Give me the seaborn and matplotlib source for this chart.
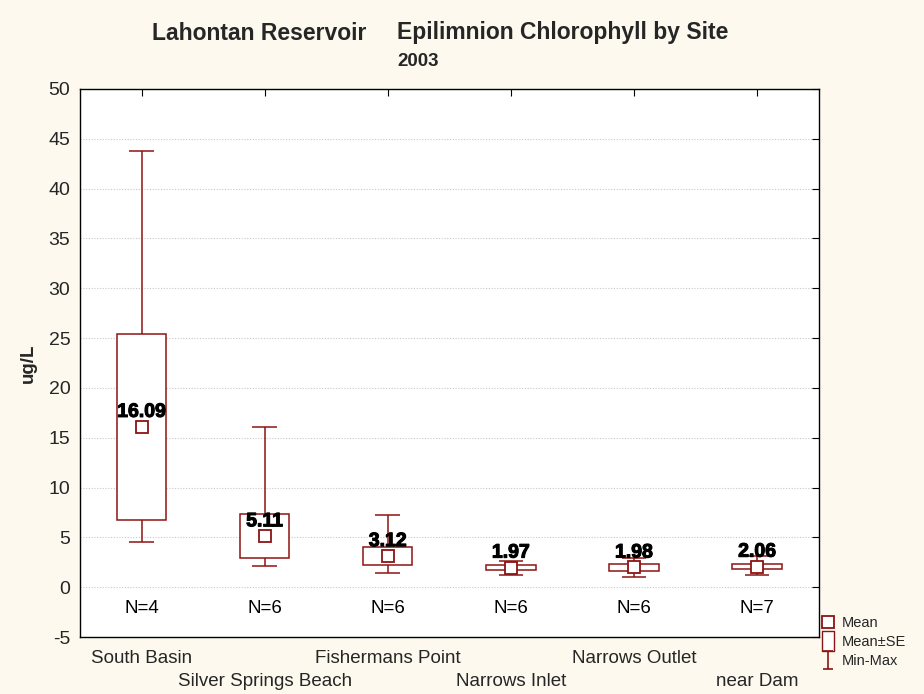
import numpy as np
import pandas as pd
import seaborn as sns
import matplotlib.pyplot as plt
import matplotlib.patheffects as pe
from matplotlib.lines import Line2D
from matplotlib.path import Path

# values
sites = ['South Basin', 'Silver Springs Beach', 'Fishermans Point',
         'Narrows Inlet', 'Narrows Outlet', 'near Dam']
means = [16.09, 5.11, 3.12, 1.97, 1.98, 2.06]
se = [9.30, 2.20, 0.89, 0.28, 0.36, 0.28]
mins = [4.56, 2.11, 1.40, 1.27, 1.07, 1.27]
maxs = [43.8, 16.07, 7.27, 2.67, 2.93, 3.17]
counts = [4, 6, 6, 6, 6, 7]

red = '#8B1414'
cream = '#FDF9EE'

sns.set_theme(style='white')
plt.rcParams['font.family'] = ['Liberation Sans', 'DejaVu Sans']
plt.rcParams['axes.unicode_minus'] = False

df = pd.DataFrame({'site': sites, 'mean': means, 'se': se,
                   'min': mins, 'max': maxs, 'n': counts})
df['lo'] = df['mean'] - df['se']
df['hi'] = df['mean'] + df['se']

fig = plt.figure(figsize=(9.24, 6.94), dpi=100, facecolor=cream)
ax = fig.add_axes([0.0866, 0.0821, 0.7994, 0.7897])
ax.set_facecolor('white')

xs = np.arange(len(df))

# whiskers + caps (min-max)
ax.vlines(xs, df['min'], df['max'], color=red, lw=1.1, zorder=2)
ax.hlines(df['min'], xs - 0.1, xs + 0.1, color=red, lw=1.1, zorder=2)
ax.hlines(df['max'], xs - 0.1, xs + 0.1, color=red, lw=1.1, zorder=2)

# mean +- SE boxes
ax.bar(xs, df['hi'] - df['lo'], bottom=df['lo'], width=0.4,
       facecolor='white', edgecolor=red, linewidth=1.1, zorder=3)

# mean markers
sns.pointplot(data=df, x='site', y='mean', ax=ax, linestyle='none',
              marker='s', markersize=8, color=red, errorbar=None,
              markerfacecolor='white', markeredgecolor=red,
              markeredgewidth=1.3, zorder=4)

for i, row in df.iterrows():
    ax.text(i, row['mean'] + 0.6, f"{row['mean']:.2f}", ha='center',
            va='bottom', fontsize=14, fontweight='bold', color='black', zorder=5,
            path_effects=[pe.withStroke(linewidth=0.8, foreground='black')])
    ax.text(i, -2.1, f"N={row['n']}", ha='center', va='center',
            fontsize=13.5, color='black')

ax.set_ylim(-5, 50)
ax.set_xlim(-0.5, len(df) - 0.5)
ax.set_yticks(np.arange(-5, 51, 5))
ax.set_xticks(xs)
ax.set_xticklabels(sites, fontsize=13.5)
ax.tick_params(axis='y', labelsize=14)
ax.tick_params(direction='in', top=True, right=True, length=5,
               width=0.8, color='black', pad=7)
ax.tick_params(axis='x', pad=9)
# stagger the site names on two rows
for i, tick in enumerate(ax.xaxis.get_major_ticks()):
    if i % 2 == 1:
        tick.set_pad(26)
for y in range(0, 50, 5):
    ax.axhline(y, color='#c8c8c8', lw=0.8, ls=(0, (1, 1.5)), zorder=0)
for s in ax.spines.values():
    s.set_color('black')
    s.set_linewidth(1.0)

ax.set_xlabel('')
ax.set_ylabel('ug/L', fontsize=13.5, fontweight='bold', labelpad=8)

# titles
fig.text(152 / 924, 1 - 33 / 694, 'Lahontan Reservoir',
         fontsize=16.5, fontweight='bold', va='center', ha='left')
fig.text(397 / 924, 1 - 33 / 694, 'Epilimnion Chlorophyll by Site',
         fontsize=16.5, fontweight='bold', va='center', ha='left')
fig.text(397 / 924, 1 - 61 / 694, '2003',
         fontsize=13.5, fontweight='bold', va='center', ha='left')

# legend
minmax = Path([(-0.5, -1), (0.5, -1), (0, -1), (0, 1), (-0.5, 1), (0.5, 1)],
              [Path.MOVETO, Path.LINETO, Path.MOVETO, Path.LINETO,
               Path.MOVETO, Path.LINETO])
tallbox = Path([(-0.55, -1), (0.55, -1), (0.55, 1), (-0.55, 1), (-0.55, -1)],
               [Path.MOVETO, Path.LINETO, Path.LINETO, Path.LINETO,
                Path.CLOSEPOLY])
handles = [
    Line2D([], [], ls='none', marker='s', markersize=8, markerfacecolor='white',
           markeredgecolor=red, markeredgewidth=1.3),
    Line2D([], [], ls='none', marker=tallbox, markersize=15, markerfacecolor='white',
           markeredgecolor=red, markeredgewidth=1.0),
    Line2D([], [], ls='none', marker=minmax, markersize=13, color=red,
           markeredgewidth=1.2),
]
fig.legend(handles, ['Mean', 'Mean\u00b1SE', 'Min-Max'], loc='upper left',
           bbox_to_anchor=(0.889, 0.112), frameon=False, fontsize=10.5,
           handlelength=0.9, handletextpad=0.5, labelspacing=0.35,
           borderaxespad=0, borderpad=0)

fig.savefig('out.png', dpi=100, facecolor=cream)
